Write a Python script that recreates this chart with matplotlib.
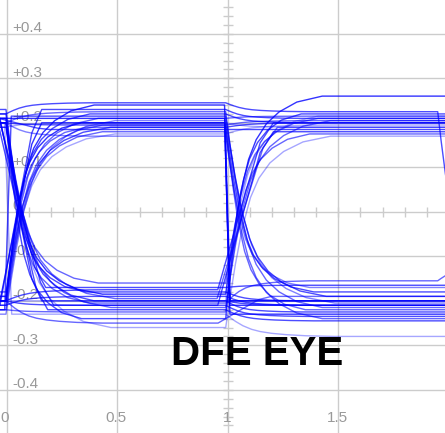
import matplotlib
matplotlib.use("Agg")
import matplotlib.pyplot as plt

# settled rail level of every trace in each unit interval
# level_pre: before x=0, level_ui0: 0..1, level_ui1: 1..2, level_post: after the right edge
level_pre = [0.22, -0.2, -0.21, 0.2, -0.19, -0.22, 0.21, -0.2, -0.23, 0.19,
             -0.2, -0.21, 0.2, -0.18, -0.2, 0.21, -0.22, -0.19, 0.2, -0.2,
             0.2, 0.21, -0.2, 0.22, 0.19, -0.21, 0.2, 0.21, -0.19, 0.2,
             0.22, -0.2, 0.21, 0.19, -0.22, 0.2, 0.21, -0.2, 0.2, 0.23]
level_ui0 = [0.245, 0.24, 0.23, 0.225, 0.22, 0.215, 0.21, 0.21, 0.205, 0.2,
             0.2, 0.195, 0.195, 0.19, 0.19, 0.185, 0.18, 0.175, 0.17, 0.2,
             -0.16, -0.17, -0.175, -0.18, -0.185, -0.19, -0.195, -0.2, -0.2, -0.205,
             -0.21, -0.21, -0.215, -0.22, -0.225, -0.23, -0.24, -0.25, -0.26, -0.2]
level_ui1 = [0.225, -0.2, 0.21, -0.215, 0.2, -0.19, -0.23, 0.215, -0.205, 0.19,
             -0.21, 0.205, -0.18, 0.2, -0.22, 0.185, -0.24, 0.195, -0.17, -0.2,
             0.21, -0.165, 0.2, -0.2, 0.26, -0.21, 0.19, -0.225, 0.215, -0.155,
             0.18, -0.235, 0.205, -0.245, 0.175, -0.28, 0.22, -0.19, 0.17, -0.21]
level_post = list(level_ui1)
level_post[0] = -0.2
level_post[29] = -0.12

# edge style at x~0 and x~1 ('s' settling, 'm' ramp, 'f' DFE step)
edge_ui0 = list("ssmsssssssmssssmssss" + "smssssssfsmssssfssss")
edge_ui0[5] = "f"
edge_ui0[27] = "m"
edge_ui0[33] = "m"
edge_ui1 = list("sfssssfsssfssssssssf" + "ssmsssmsssmssssssmss")
speed = [1.0, 1.05, 0.9, 1.15, 1.0, 1.2, 0.95, 1.1, 1.3, 1.0,
         0.9, 1.15, 1.05, 1.25, 0.95, 1.1, 1.15, 1.3, 1.0, 0.9,
         1.1, 1.0, 1.2, 0.95, 1.15, 1.05, 1.3, 0.9, 1.1, 1.0,
         1.2, 0.95, 1.25, 1.05, 1.0, 1.3, 0.9, 1.15, 1.25, 1.05]
alpha = [0.7, 0.8, 0.7, 0.6, 0.7, 0.7, 0.8, 0.6, 0.5, 0.35,
         0.8, 0.6, 0.7, 0.7, 0.6, 0.7, 0.6, 0.35, 0.5, 0.8,
         0.6, 0.7, 0.7, 0.7, 0.8, 0.7, 0.6, 0.7, 0.35, 0.6,
         0.7, 0.7, 0.6, 0.7, 0.6, 0.35, 0.7, 0.6, 0.35, 0.7]

# transition profiles: offset from the bit boundary, fraction of the swing
slow_dx = [0.0, 0.015, 0.035, 0.06, 0.09, 0.12, 0.16, 0.21, 0.28, 0.38]
slow_fr = [0.0, 0.15, 0.33, 0.52, 0.68, 0.78, 0.86, 0.92, 0.97, 1.0]
ramp_dx = [-0.03, 0.06, 0.13, 0.18]
ramp_fr = [0.0, 0.5, 0.88, 1.0]
step_dx = [-0.005, 0.02]
step_fr = [0.0, 1.0]
boundaries = [-0.005, 0.99, 1.95]

y_ticks = [-0.4, -0.3, -0.2, -0.1, 0.0, 0.1, 0.2, 0.3, 0.4]
y_labels = ["-0.4", "-0.3", "-0.2", "-0.1", "0", "+0.1", "+0.2", "+0.3", "+0.4"]
x_ticks = [0.0, 0.5, 1.0, 1.5]
x_labels = ["0", "0.5", "1", "1.5"]

shapes = {"s": (slow_dx, slow_fr), "m": (ramp_dx, ramp_fr), "f": (step_dx, step_fr)}


def trace_path(levels, kinds, spd):
    xs = [-0.1]
    ys = [levels[0]]
    for tb, p, q, k in zip(boundaries, levels[:-1], levels[1:], kinds):
        if p == q:
            continue
        dx, fr = shapes[k]
        for u, f in zip(dx, fr):
            xs.append(tb + u * spd)
            ys.append(p + (q - p) * f)
    xs.append(2.1)
    ys.append(levels[-1])
    return xs, ys


fig = plt.figure(figsize=(4.45, 4.33), dpi=100)
ax = fig.add_axes([0, 0, 1, 1])
ax.set_xlim(-0.032, 1.983)
ax.set_ylim(-0.497, 0.476)
ax.axis("off")

grid_col = "#cccccc"
lab_col = "#999999"
for y in y_ticks:
    ax.axhline(y, color=grid_col, lw=1.0, zorder=0)
for x in x_ticks:
    ax.axvline(x, color=grid_col, lw=1.0, zorder=0)

# minor ticks on the centre cross
ax.plot([i / 10 for i in range(1, 20)], [0.0] * 19, ls="none", marker="|",
        ms=7, mew=1.0, color=grid_col, zorder=0)
ax.plot([1.0] * 48, [-0.48 + 0.02 * i for i in range(48)], ls="none", marker="_",
        ms=7, mew=1.0, color=grid_col, zorder=0)

for y, lab in zip(y_ticks, y_labels):
    ax.text(0.022, y + 0.004, lab, ha="left", va="baseline", fontsize=11,
            family="Liberation Sans", color=lab_col, zorder=1)
for x, lab in zip(x_ticks, x_labels):
    xx = x - 0.01 if x == 0 else x - 0.005
    ax.text(xx, -0.463, lab, ha="center", va="center", fontsize=11,
            family="Liberation Sans", color=lab_col, zorder=1)

for i in range(len(level_ui0)):
    levels = [level_pre[i], level_ui0[i], level_ui1[i], level_post[i]]
    kinds = [edge_ui0[i], edge_ui1[i], "s"]
    xs, ys = trace_path(levels, kinds, speed[i])
    ax.plot(xs, ys, color="#0000ff", lw=1.0, alpha=alpha[i], zorder=2)

ax.text(1.133, -0.319, "DFE EYE", ha="center", va="center", fontsize=29,
        fontweight="bold", family="Liberation Sans", color="black", zorder=3)

fig.savefig("out.png", dpi=100, facecolor="white")
